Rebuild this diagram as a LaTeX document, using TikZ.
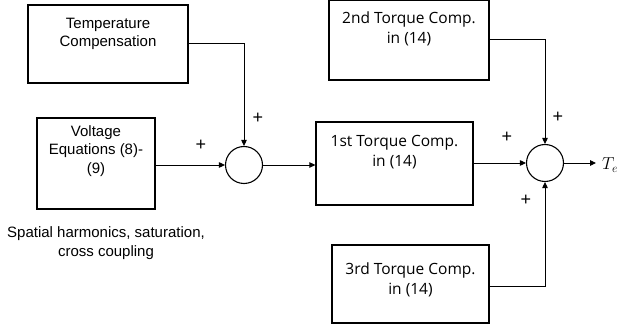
\documentclass[tikz,border=0pt]{standalone}
\usepackage{fontspec}
\setmainfont{Liberation Sans}
\newfontfamily\tqfont{Open Sans}
\usetikzlibrary{arrows.meta}
\begin{document}
\begin{tikzpicture}[x=1pt,y=-1pt,
  blk/.style={draw,line width=1.2pt,inner sep=0pt},
  sumnode/.style={draw,circle,line width=1.1pt,minimum size=37pt,inner sep=0pt},
  conn/.style={line width=0.9pt,-{Triangle[length=6pt,width=5.5pt]}},
  lbl/.style={font=\fontsize{15}{18.5}\selectfont,align=center,inner sep=0pt},
  tql/.style={font=\tqfont\fontsize{15.5}{20}\selectfont,align=center,inner sep=0pt},
  plus/.style={font=\fontsize{18}{18}\selectfont,inner sep=0pt}]
\useasboundingbox (0,0) rectangle (622,331);
% boxes
\node[blk,minimum width=160pt,minimum height=78pt] (temp) at (108,44) {};
\node[lbl] (tempt) at (108,34) {Temperature\\Compensation};
\node[blk,minimum width=118pt,minimum height=91pt] (volt) at (96,163.5) {};
\node[lbl] (voltt) at (96,151) {Voltage\\Equations (8)-\\(9)};
\node[lbl] (spat) at (106,243) {Spatial harmonics, saturation,\\cross coupling};
\node[sumnode] (s1) at (244,165) {};
\node[blk,minimum width=157pt,minimum height=83pt] (t1) at (394.5,163.5) {};
\node[tql] (t1t) at (394.5,152) {1st Torque Comp.\\in (14)};
\node[blk,minimum width=160pt,minimum height=80pt] (t2) at (409,40) {};
\node[tql] (t2t) at (409,29) {2nd Torque Comp.\\in (14)};
\node[blk,minimum width=157pt,minimum height=78pt] (t3) at (410.5,284) {};
\node[tql] (t3t) at (410.5,280) {3rd Torque Comp.\\in (14)};
\node[sumnode] (s2) at (545,163) {};
\coordinate (out) at (596,163);
\node[anchor=west,inner sep=0pt,font=\fontsize{17}{17}\selectfont] (te) at (602,165) {$T_e$};
% connectors
\draw[conn] (temp.east |- 0,43) -| (s1.north);
\draw[conn] (volt.east |- s1.west) -- (s1.west);
\draw[conn] (s1.east) -- (t1.west |- s1.east);
\draw[conn] (t1.east |- s2.west) -- (s2.west);
\draw[conn] (t2.east |- 0,39) -| (s2.north);
\draw[conn] (t3.east |- 0,286) -| (s2.south);
\draw[conn] (s2.east) -- (out);
% signs
\node[plus] (p1) at (201,145) {+};
\node[plus] (p2) at (258,118) {+};
\node[plus] (p3) at (507,137) {+};
\node[plus] (p4) at (558,117) {+};
\node[plus] (p5) at (526,200) {+};
\end{tikzpicture}
\end{document}
